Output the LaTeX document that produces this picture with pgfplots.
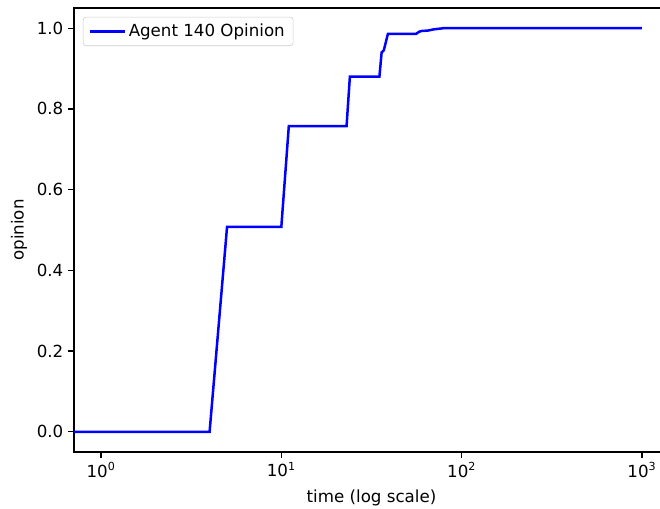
\documentclass[border=0pt]{standalone}
\usepackage{fontspec}
\setmainfont{DejaVu Sans}
\usepackage{pgfplots}
\pgfplotsset{compat=1.18}

\pgfplotstableread{
t op
0.5 0
4 0
5 0.508
10 0.508
11 0.757
23 0.757
24 0.880
35 0.880
36 0.940
37 0.945
39 0.986
56 0.986
58 0.991
60 0.993
65 0.994
70 0.997
80 1.0
1000 1.0
}\opinion

\begin{document}
\begin{tikzpicture}[x=0.72pt,y=0.72pt]
\begin{axis}[
  name=ax,
  at={(0,0)}, anchor=south west,
  scale only axis,
  width=428.4pt, height=319.7pt,
  xmode=log,
  xmin=0.708, xmax=1413,
  ymin=-0.05, ymax=1.05,
  log basis x=10,
  xtick={1,10,100,1000},
  xticklabels={10\textsuperscript{0},10\textsuperscript{1},10\textsuperscript{2},10\textsuperscript{3}},
  ytick={0,0.2,0.4,0.6,0.8,1.0},
  yticklabel style={/pgf/number format/fixed,/pgf/number format/precision=1,/pgf/number format/fixed zerofill},
  /pgf/number format/assume math mode=true,
  tick label style={font=\fontsize{12}{14}\selectfont, black},
  label style={font=\fontsize{12}{14}\selectfont},
  xlabel={time (log scale)},
  ylabel={opinion},
  xlabel style={yshift=-2pt},
  tick align=outside,
  xtick pos=left, ytick pos=left,
  major tick length=4.2pt,
  minor tick length=2.4pt,
  tick style={black, line width=0.9pt},
  axis line style={black, line width=0.9pt},
  legend style={font=\fontsize{12}{14}\selectfont, draw=black!20, rounded corners=2pt,
    at={(0.015,0.98)}, anchor=north west, inner xsep=4pt, inner ysep=3pt},
  legend image code/.code={\draw[#1] (0pt,0pt) -- (25pt,0pt);},
  legend cell align=left,
]
\addplot[blue, line width=1.8pt, line join=miter] table[x=t,y=op]{\opinion};
\addlegendentry{Agent 140 Opinion}
\end{axis}
\draw[white] (500,100) -- (500,300);
\draw[white, line width=2pt] (ax.south east) -- ++(-20,20);
\pgfresetboundingbox
\useasboundingbox (-74,-57) rectangle (586,452);
\end{tikzpicture}
\end{document}
